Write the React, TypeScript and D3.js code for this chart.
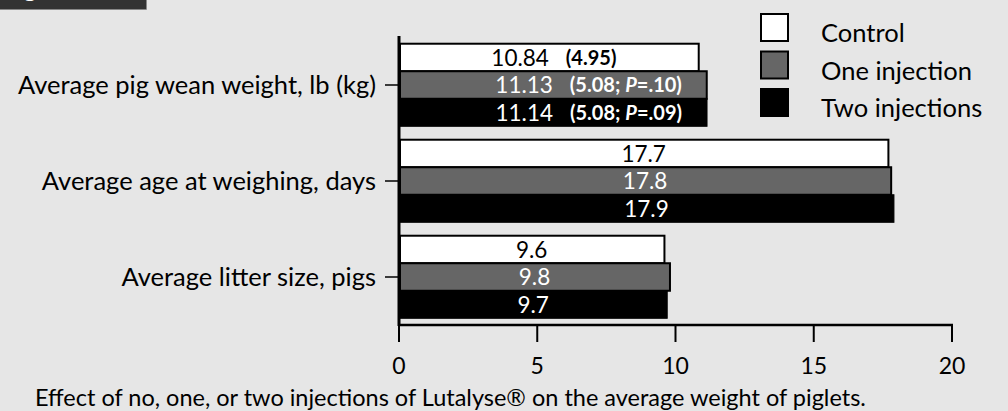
import React from "react";
import * as d3 from "d3";

const categories = [
  "Average pig wean weight, lb (kg)",
  "Average age at weighing, days",
  "Average litter size, pigs",
];
const seriesNames = ["Control", "One injection", "Two injections"];
const control = [10.84, 17.7, 9.6];
const oneInjection = [11.13, 17.8, 9.8];
const twoInjections = [11.14, 17.9, 9.7];
const controlLabels = ["10.84", "17.7", "9.6"];
const oneLabels = ["11.13", "17.8", "9.8"];
const twoLabels = ["11.14", "17.9", "9.7"];
// kg notes for the first category: [kg, P]
const kgNotes: [string, string | null][] = [
  ["4.95", null],
  ["5.08", ".10"],
  ["5.08", ".09"],
];
const xTicks = [0, 5, 10, 15, 20];
const caption =
  "Effect of no, one, or two injections of Lutalyse\u00AE on the average weight of piglets.";

const W = 1008;
const H = 411;
const FONT = "Lato, 'Open Sans', sans-serif";
const fills = ["#ffffff", "#666666", "#000000"];
const textFills = ["#000000", "#ffffff", "#ffffff"];

export default function App() {
  const x = d3.scaleLinear().domain([0, 20]).range([399, 952]);
  const y = d3.scaleBand<string>().domain(categories).range([37, 325]).paddingInner(0.14).paddingOuter(0.07);
  const ySub = d3.scaleBand<string>().domain(seriesNames).range([0, y.bandwidth()]).padding(0);
  const series = [control, oneInjection, twoInjections];
  const labels = [controlLabels, oneLabels, twoLabels];

  return (
    <div style={{ position: "absolute", left: 0, top: 0 }}>
      <svg width={W} height={H} style={{ display: "block" }} fontFamily={FONT}>
        <rect x={0} y={0} width={W} height={H} fill="#e6e6e6" />
        {/* top-left tab */}
        <defs>
          <clipPath id="tabclip">
            <rect x={0} y={0} width={146} height={9} />
          </clipPath>
        </defs>
        <rect x={0} y={0} width={146} height={9} fill="#333333" />
        <line x1={0} x2={146.5} y1={9.5} y2={9.5} stroke="#888" strokeWidth={1} />
        <line x1={146.5} x2={146.5} y1={0} y2={9.5} stroke="#888" strokeWidth={1} />
        <text x={4} y={-3} fontSize={24} fontWeight="bold" fill="#fff" clipPath="url(#tabclip)">
          Figure 1
        </text>

        {/* bars */}
        {categories.map((c, ci) => (
          <g key={c}>
            {seriesNames.map((s, si) => {
              const v = series[si][ci];
              const y0 = (y(c) as number) + (ySub(s) as number);
              const h = ySub.bandwidth();
              return (
                <rect
                  key={s}
                  x={x(0) + 1}
                  y={y0}
                  width={x(v) - x(0) - 1}
                  height={h}
                  fill={fills[si]}
                  stroke="#000"
                  strokeWidth={si === 2 ? 1 : 2}
                />
              );
            })}
          </g>
        ))}

        {/* value labels */}
        {categories.map((c, ci) => (
          <g key={"l" + c}>
            {seriesNames.map((s, si) => {
              const v = series[si][ci];
              const yc = (y(c) as number) + (ySub(s) as number) + ySub.bandwidth() / 2;
              const cx = (x(0) + x(v)) / 2;
              if (ci === 0) {
                const [kg, p] = kgNotes[si];
                return (
                  <g key={s} fill={textFills[si]}>
                    <text x={cx} y={yc} dy="0.37em" textAnchor="end" fontSize={22.5}>
                      {labels[si][ci]}
                    </text>
                    <text x={cx + 17} y={yc} dy="0.36em" fontSize={20} fontWeight="bold">
                      {p ? (
                        <>
                          {"(" + kg + "; "}
                          <tspan fontStyle="italic">P</tspan>
                          {"=" + p + ")"}
                        </>
                      ) : (
                        "(" + kg + ")"
                      )}
                    </text>
                  </g>
                );
              }
              return (
                <text key={s} x={cx} y={yc} dy="0.37em" textAnchor="middle" fontSize={22.5} fill={textFills[si]}>
                  {labels[si][ci]}
                </text>
              );
            })}
          </g>
        ))}

        {/* y axis */}
        <line x1={399} x2={399} y1={36} y2={326} stroke="#000" strokeWidth={3} />
        {categories.map((c) => {
          const yc = (y(c) as number) + y.bandwidth() / 2;
          return (
            <g key={"t" + c}>
              <line x1={385} x2={399} y1={yc} y2={yc} stroke="#000" strokeWidth={1.5} />
              <text x={376} y={yc} dy="0.36em" textAnchor="end" fontSize={25.5} fill="#000">
                {c}
              </text>
            </g>
          );
        })}

        {/* x axis */}
        <line x1={398} x2={953} y1={325} y2={325} stroke="#000" strokeWidth={2.5} />
        {xTicks.map((t) => (
          <g key={"x" + t}>
            <line x1={x(t)} x2={x(t)} y1={325} y2={342} stroke="#000" strokeWidth={2} />
            <text x={x(t)} y={374} textAnchor="middle" fontSize={23} fill="#000">
              {t}
            </text>
          </g>
        ))}

        {/* legend */}
        {seriesNames.map((s, i) => {
          const ly = 14 + i * 37.5;
          return (
            <g key={"lg" + s}>
              <rect x={761} y={ly} width={27} height={27} fill={fills[i]} stroke="#000" strokeWidth={2} />
              <text x={821} y={ly + 28} fontSize={25.5} fill="#000">
                {s}
              </text>
            </g>
          );
        })}

        {/* caption */}
        <text x={35} y={406} fontSize={23.5} fill="#000">
          {caption}
        </text>
      </svg>
    </div>
  );
}
